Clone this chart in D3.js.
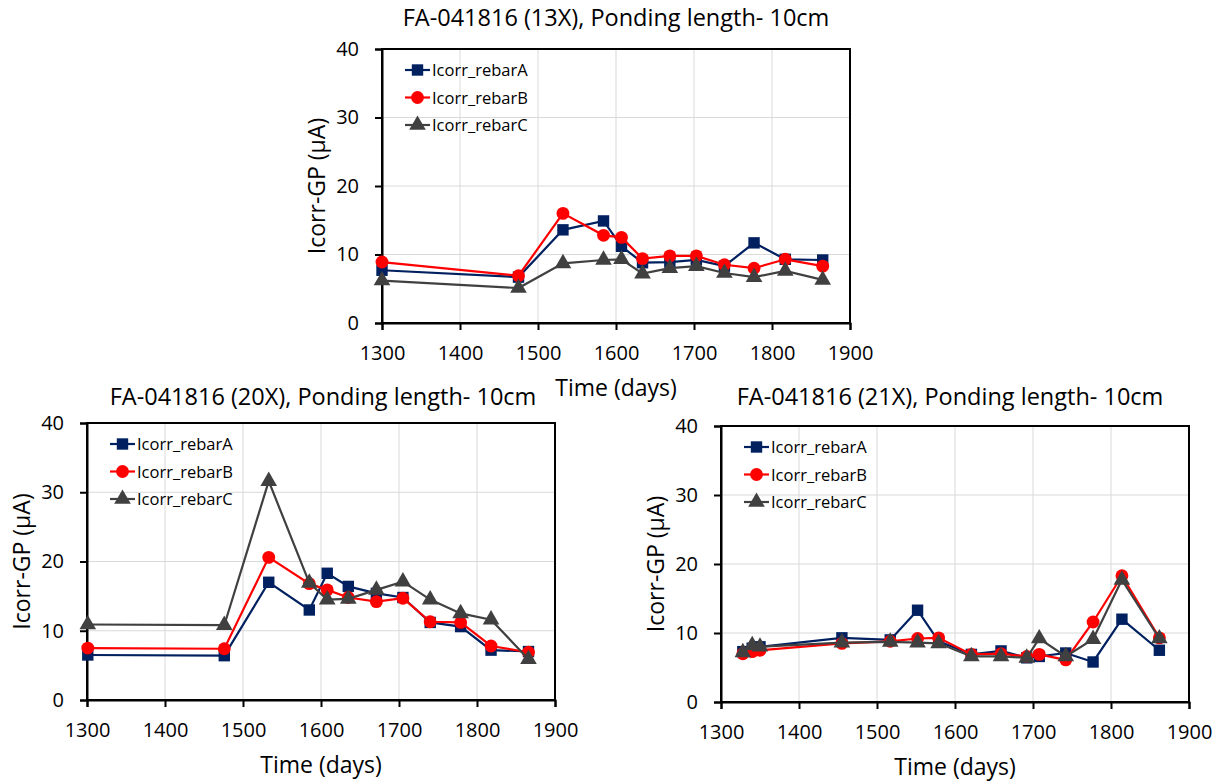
<!DOCTYPE html>
<html>
<head>
<meta charset="utf-8">
<script src="https://cdn.jsdelivr.net/npm/d3@7"></script>
<style>
  body { margin: 0; background: #fff; }
  text { font-family: "Open Sans", sans-serif; fill: #000; }
</style>
</head>
<body>
<script>
// ---- data ----
const seriesNames = ["Icorr_rebarA", "Icorr_rebarB", "Icorr_rebarC"];
const xTicks = [1300, 1400, 1500, 1600, 1700, 1800, 1900];
const yTicks = [0, 10, 20, 30, 40];

// 13X
const days13 = [1300, 1475, 1532, 1584, 1607, 1634, 1669, 1703, 1739, 1777, 1817, 1865];
const rebarA13 = [7.7, 6.7, 13.6, 14.9, 11.2, 8.8, 8.9, 9.2, 8.3, 11.7, 9.3, 9.2];
const rebarB13 = [8.9, 6.9, 16.0, 12.8, 12.5, 9.4, 9.8, 9.8, 8.5, 8.0, 9.3, 8.3];
const rebarC13 = [6.2, 5.1, 8.7, 9.2, 9.3, 7.2, 8.0, 8.3, 7.3, 6.7, 7.6, 6.3];

// 20X
const days20 = [1301, 1476, 1533, 1585, 1608, 1635, 1671, 1705, 1740, 1779, 1818, 1866];
const rebarA20 = [6.5, 6.4, 17.0, 13.0, 18.3, 16.4, 15.4, 14.8, 11.2, 10.6, 7.2, 7.0];
const rebarB20 = [7.5, 7.4, 20.6, 16.8, 15.9, 14.8, 14.2, 14.7, 11.3, 11.2, 7.8, 6.9];
const rebarC20 = [10.9, 10.8, 31.6, 16.9, 14.5, 14.6, 15.9, 17.1, 14.5, 12.5, 11.6, 5.9];

// 21X
const days21 = [1328, 1340, 1350, 1455, 1517, 1552, 1579, 1621, 1659, 1692, 1708, 1742, 1777, 1814, 1862];
const rebarA21 = [7.3, 7.8, 8.0, 9.3, 9.0, 13.3, 8.8, 6.9, 7.4, 6.4, 6.6, 7.1, 5.8, 12.0, 7.5];
const rebarB21 = [7.0, 7.3, 7.5, 8.5, 8.8, 9.2, 9.3, 6.9, 7.0, 6.6, 6.9, 6.1, 11.6, 18.3, 9.3];
const rebarC21 = [7.2, 8.2, 8.0, 8.6, 8.7, 8.6, 8.5, 6.6, 6.6, 6.4, 9.2, 6.6, 9.1, 17.7, 9.2];

const colors = ["#002060", "#ff0000", "#404040"];
const shapes = [d3.symbolSquare, d3.symbolCircle, d3.symbolTriangle];
const sizes = [130, 130, 120];

const svg = d3.select("body").append("svg")
  .attr("width", 1219)
  .attr("height", 784);

function drawChart(opt) {
  const x = d3.scaleLinear().domain([1300, 1900]).range([opt.left, opt.right]);
  const y = d3.scaleLinear().domain([0, 40]).range([opt.bottom, opt.top]);
  const g = svg.append("g");

  // grid
  g.selectAll(".gx").data(xTicks.slice(1, -1)).join("line")
    .attr("x1", d => x(d)).attr("x2", d => x(d))
    .attr("y1", opt.top).attr("y2", opt.bottom)
    .attr("stroke", "#d9d9d9").attr("stroke-width", 1);
  g.selectAll(".gy").data(yTicks.slice(1, -1)).join("line")
    .attr("x1", opt.left).attr("x2", opt.right)
    .attr("y1", d => y(d)).attr("y2", d => y(d))
    .attr("stroke", "#d9d9d9").attr("stroke-width", 1);

  // frame
  g.append("rect")
    .attr("x", opt.left).attr("y", opt.top)
    .attr("width", opt.right - opt.left).attr("height", opt.bottom - opt.top)
    .attr("fill", "none").attr("stroke", "#000").attr("stroke-width", 2);

  // axes
  const xAxis = g.append("g").attr("transform", `translate(0,${opt.bottom})`)
    .call(d3.axisBottom(x).tickValues(xTicks).tickFormat(d3.format("d")).tickSize(7).tickPadding(16));
  const yAxis = g.append("g").attr("transform", `translate(${opt.left},0)`)
    .call(d3.axisLeft(y).tickValues(yTicks).tickSize(7).tickPadding(16));
  [xAxis, yAxis].forEach(a => {
    a.select(".domain").attr("stroke", "#000").attr("stroke-width", 2);
    a.selectAll(".tick line").attr("stroke", "#000").attr("stroke-width", 2);
    a.selectAll(".tick text").style("font-size", "20px").style("font-family", "Open Sans, sans-serif");
  });

  // lines + markers
  const line = d3.line().x(d => x(d[0])).y(d => y(d[1]));
  opt.series.forEach((vals, i) => {
    const pts = opt.days.map((d, j) => [d, vals[j]]);
    g.append("path").datum(pts)
      .attr("d", line).attr("fill", "none")
      .attr("stroke", colors[i]).attr("stroke-width", 2.2);
    g.selectAll(null).data(pts).join("path")
      .attr("transform", d => `translate(${x(d[0])},${y(d[1])})`)
      .attr("d", d3.symbol().type(shapes[i]).size(sizes[i]))
      .attr("fill", colors[i]);
  });

  // legend
  seriesNames.forEach((name, i) => {
    const ly = opt.top + 21 + i * 27.5;
    const lx = opt.left + 23;
    g.append("line").attr("x1", lx).attr("x2", lx + 25)
      .attr("y1", ly).attr("y2", ly)
      .attr("stroke", colors[i]).attr("stroke-width", 2.2);
    g.append("path").attr("transform", `translate(${lx + 12.5},${ly})`)
      .attr("d", d3.symbol().type(shapes[i]).size(sizes[i]))
      .attr("fill", colors[i]);
    g.append("text").attr("x", lx + 27).attr("y", ly + 6)
      .style("font-size", "16.5px").text(name);
  });

  // titles
  g.append("text").attr("x", opt.titleX).attr("y", opt.titleY)
    .attr("text-anchor", "middle").style("font-size", "23.5px").text(opt.title);
  g.append("text")
    .attr("transform", `translate(${opt.left - 57},${(opt.top + opt.bottom) / 2}) rotate(-90)`)
    .attr("text-anchor", "middle").style("font-size", "23px").text("Icorr-GP (\u00b5A)");
  g.append("text").attr("x", (opt.left + opt.right) / 2).attr("y", opt.bottom + 73)
    .attr("text-anchor", "middle").style("font-size", "23px").text("Time (days)");
}

drawChart({
  left: 382, right: 850, top: 49, bottom: 323,
  title: "FA-041816 (13X), Ponding length- 10cm", titleX: 616, titleY: 26,
  days: days13, series: [rebarA13, rebarB13, rebarC13]
});
drawChart({
  left: 87, right: 555, top: 423, bottom: 700,
  title: "FA-041816 (20X), Ponding length- 10cm", titleX: 323, titleY: 405,
  days: days20, series: [rebarA20, rebarB20, rebarC20]
});
drawChart({
  left: 721, right: 1189, top: 426, bottom: 702,
  title: "FA-041816 (21X), Ponding length- 10cm", titleX: 950, titleY: 405,
  days: days21, series: [rebarA21, rebarB21, rebarC21]
});
</script>
</body>
</html>
